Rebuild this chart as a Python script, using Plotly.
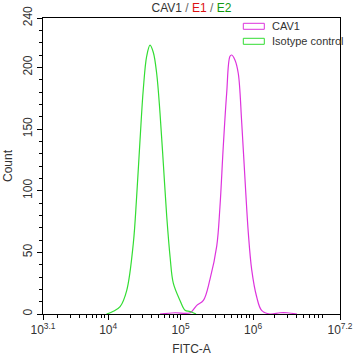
import plotly.graph_objects as go

# Isotype control (green)
iso_x = [9.5e3, 1.16e4, 1.46e4, 1.80e4, 2.22e4, 2.47e4, 2.75e4, 3.05e4, 3.40e4, 3.78e4,
         4.20e4, 4.67e4, 5.19e4, 5.77e4, 6.43e4, 7.16e4, 7.92e4, 9.8e4, 1.15e5, 1.35e5, 1.63e5]
iso_y = [0, 2, 6, 19, 57, 95, 141, 182, 209, 218,
         212, 195, 163, 122, 79, 46, 25, 11, 3, 2, 0]

# CAV1 (magenta)
cav_x = [5.19e4, 8.36e4, 1.35e5, 1.67e5, 2.06e5, 2.54e5, 3.15e5, 3.49e5, 3.88e5, 4.32e5,
         4.80e5, 5.07e5, 5.62e5, 6.25e5, 6.97e5, 7.74e5, 8.59e5, 9.57e5, 1.12e6, 1.31e6,
         1.71e6, 2.35e6, 2.94e6, 4.04e6]
cav_y = [0, 1, 1, 7, 11, 28, 55, 87, 136, 179,
         209, 210, 206, 195, 155, 109, 66, 36, 14, 3,
         0, 1, 1, 0]

x_tickvals = [10**3.1, 1e4, 1e5, 1e6, 10**7.2]
x_ticktext = ["10<sup>3.1</sup>", "10<sup>4</sup>", "10<sup>5</sup>", "10<sup>6</sup>", "10<sup>7.2</sup>"]
y_tickvals = [0, 50, 100, 150, 200, 240]
legend_names = ["CAV1", "Isotype control"]
cav_color = "#dd33dd"
iso_color = "#33dd33"

minor_x = []
for e in range(3, 7):
    for m in range(2, 10):
        v = m * 10**e
        if 10**3.1 < v < 10**7.2:
            minor_x.append(v)
minor_y = [v for v in range(10, 240, 10) if v % 50 != 0]

font = "Liberation Sans, Arial, sans-serif"
fig = go.Figure()
fig.add_trace(go.Scatter(x=cav_x, y=cav_y, mode="lines", line=dict(color=cav_color, width=1.2),
                         name=legend_names[0], showlegend=False, line_shape="spline"))
fig.add_trace(go.Scatter(x=iso_x, y=iso_y, mode="lines", line=dict(color=iso_color, width=1.2),
                         name=legend_names[1], showlegend=False, line_shape="spline"))

fig.update_layout(
    width=354, height=357,
    margin=dict(l=43, r=14, t=18, b=43, autoexpand=False),
    paper_bgcolor="white", plot_bgcolor="white",
    font=dict(family=font, size=12, color="#333"),
    title=dict(
        text="<span style='color:#333333'>CAV1</span><span style='color:#666666'> / </span>"
             "<span style='color:#dd1111'>E1</span><span style='color:#666666'> / </span>"
             "<span style='color:#119911'>E2</span>",
        x=0.541, xanchor="center", y=0.978, yanchor="middle",
        font=dict(size=12, family=font)),
    xaxis=dict(type="log", range=[3.1, 7.2], tickmode="array", tickvals=x_tickvals,
               ticktext=x_ticktext, ticks="outside", ticklen=5, tickcolor="black",
               showline=True, linecolor="black", linewidth=1, mirror=True,
               showgrid=False, zeroline=False, automargin=False,
               minor=dict(tickmode="array", tickvals=minor_x, ticks="outside", ticklen=3,
                          tickcolor="black", showgrid=False),
               title=dict(text="FITC-A", standoff=8, font=dict(size=12)),
               tickfont=dict(size=12)),
    yaxis=dict(range=[0, 240], tickmode="array", tickvals=y_tickvals, tickangle=-90,
               ticks="outside", ticklen=5, tickcolor="black",
               showline=True, linecolor="black", linewidth=1, mirror=True,
               showgrid=False, zeroline=False, automargin=False,
               minor=dict(tickmode="array", tickvals=minor_y, ticks="outside", ticklen=3,
                          tickcolor="black", showgrid=False),
               title=dict(text="Count", standoff=6, font=dict(size=12)),
               tickfont=dict(size=12)),
)

# legend drawn manually (outlined boxes)
for i, (name, col) in enumerate(zip(legend_names, [cav_color, iso_color])):
    y0 = 1 - (23.3 - 18 + i * 15) / 296
    y1 = 1 - (29.3 - 18 + i * 15) / 296
    fig.add_shape(type="rect", xref="paper", yref="paper",
                  x0=(243.3 - 43) / 297, x1=(264.3 - 43) / 297, y0=y1, y1=y0,
                  line=dict(color=col, width=1), fillcolor="rgba(0,0,0,0)")
    fig.add_annotation(xref="paper", yref="paper", x=(270 - 43) / 297, y=(y0 + y1) / 2,
                       text=name, showarrow=False, xanchor="left", yanchor="middle",
                       font=dict(size=11, color="#333", family=font))

fig.write_html("out.html")
